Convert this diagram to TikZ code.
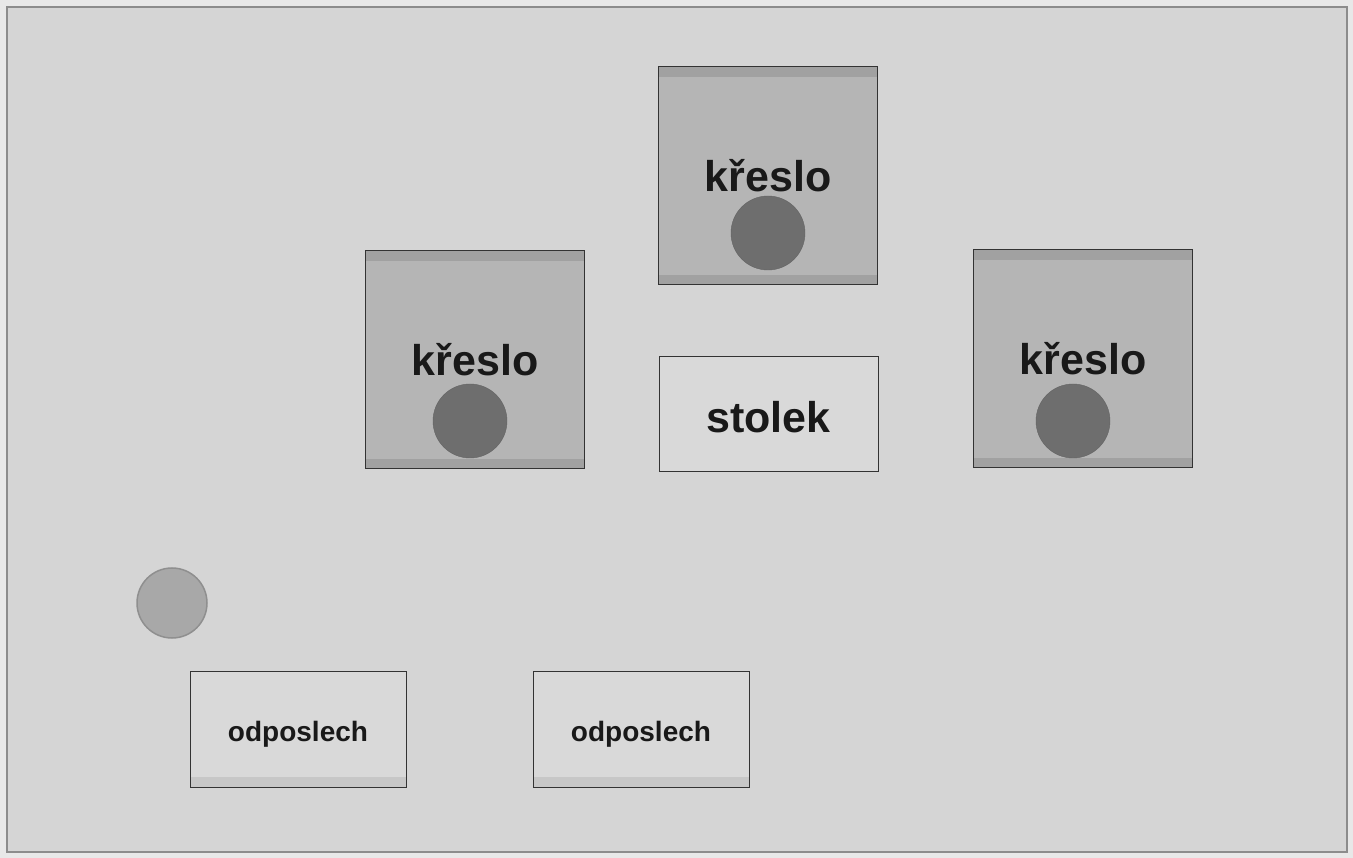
\documentclass[tikz,border=0pt]{standalone}
\usepackage{fontspec}
\setmainfont{Liberation Sans}
\usepackage{tikz}
\usetikzlibrary{shapes}
\definecolor{paper}{gray}{0.91}
\definecolor{floor}{gray}{0.835}
\definecolor{chairgray}{gray}{0.71}
\definecolor{stripegray}{gray}{0.63}
\definecolor{seatgray}{gray}{0.43}
\definecolor{deskgray}{gray}{0.85}
\definecolor{lightstripe}{gray}{0.78}
\definecolor{micgray}{gray}{0.66}
\definecolor{ink}{gray}{0.1}
\tikzstyle{frame}=[draw=black!45,line width=1.2pt,fill=floor]
\tikzstyle{chair}=[rectangle,draw=black!80,line width=1pt,fill=chairgray,inner sep=0pt,
    minimum width=219pt,minimum height=218pt,text=ink,
    text height=32pt,text depth=0pt,
    font=\bfseries\fontsize{43}{43}\selectfont,
    path picture={
      \fill[stripegray] (path picture bounding box.north west) rectangle ([yshift=-10pt]path picture bounding box.north east);
      \fill[stripegray] (path picture bounding box.south west) rectangle ([yshift=10pt]path picture bounding box.south east);
    }]
\tikzstyle{seat}=[circle,fill=seatgray,draw=seatgray!90!black,minimum size=74pt,inner sep=0pt]
\tikzstyle{desk}=[rectangle,draw=black!80,line width=1pt,fill=deskgray,inner sep=0pt,
    minimum width=219pt,minimum height=115pt,text=ink,
    text height=37pt,text depth=0pt,
    font=\bfseries\fontsize{43}{43}\selectfont]
\tikzstyle{listen}=[rectangle,draw=black!80,line width=1pt,fill=deskgray,inner sep=0pt,
    minimum width=216pt,minimum height=116pt,text=ink,
    text height=24pt,text depth=0pt,
    font=\bfseries\fontsize{28}{28}\selectfont,
    path picture={
      \fill[lightstripe] (path picture bounding box.south west) rectangle ([yshift=10pt]path picture bounding box.south east);
    }]
\tikzstyle{mic}=[circle,fill=micgray,draw=micgray!85!black,line width=1.5pt,minimum size=70pt,inner sep=0pt]

\begin{document}
\begin{tikzpicture}[x=1pt,y=-1pt]
    % The room and its margins
    \fill[paper] (0,0) rectangle (1353,858);
    \path[frame] (7,7) rectangle (1347,852);
    % First we draw the chairs
    \foreach \pos/\name in {{(768,176)/k1}, {(475,360)/k2}, {(1083,359)/k3}}
        \node[chair] (\name) at \pos {křeslo};
    % Someone sits in every chair
    \foreach \name/\dx/\dy in {k1/0/57, k2/-5/61, k3/-10/62}
        \node[seat] (s\name) at ([xshift=\dx pt,yshift=-\dy pt]\name.center) {};
    % The table in the middle
    \node[desk] (stolek) at (768.5,414.5) {stolek};
    % Listening spots
    \node[mic] (mic) at (172,603) {};
    \foreach \pos/\name in {{(298,729)/o1}, {(641,729)/o2}}
        \node[listen] (\name) at \pos {odposlech};
\end{tikzpicture}
\end{document}
